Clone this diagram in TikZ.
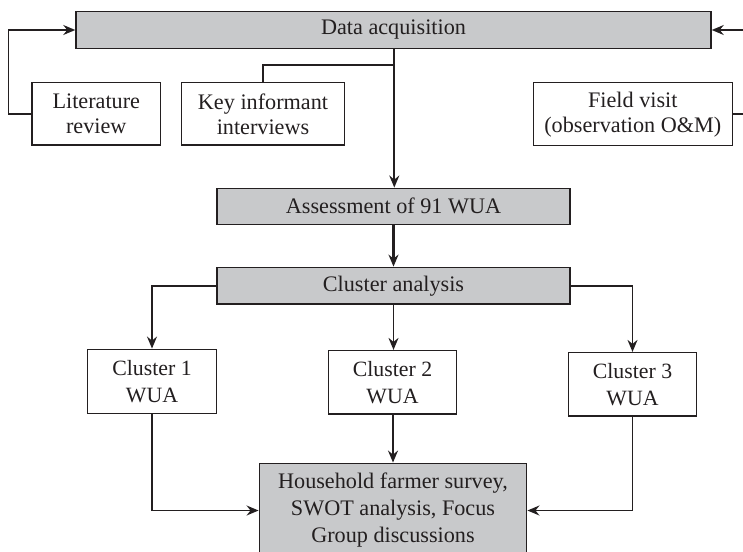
\documentclass[tikz,border=0pt]{standalone}
\usepackage{fontspec}
\setmainfont{Liberation Serif}
\usetikzlibrary{arrows.meta}
\definecolor{ink}{RGB}{35,31,32}
\definecolor{boxgray}{RGB}{200,201,203}
\tikzset{
  basebox/.style={draw=ink, line width=0.75pt, rectangle, inner sep=0pt, align=center, text=ink},
  graybox/.style={basebox, fill=boxgray},
  whitebox/.style={basebox, fill=white},
  topfont/.style={font=\fontsize{11.1}{12.5}\selectfont},
  lowfont/.style={font=\fontsize{10.9}{13.3}\selectfont},
  conn/.style={draw=ink, line width=0.8pt},
  arr/.style={conn, -{Stealth[length=6pt,width=5pt,inset=2pt]}},
  thickarr/.style={arr, line width=1.05pt}
}
\begin{document}
\begin{tikzpicture}[x=0.5pt,y=-0.5pt]
\clip (0,0) rectangle (743,551);
\fill[white] (0,0) rectangle (743,551);

\node[graybox, topfont, minimum width=317.5pt, minimum height=18.3pt] (da) at (393.5,30) {Data acquisition};
\node[whitebox, topfont, minimum width=64.35pt, minimum height=31.15pt] (lit) at (96.3,113.8) {Literature\\review};
\node[whitebox, topfont, minimum width=81.3pt, minimum height=31.15pt] (key) at (263,113.8) {Key informant\\interviews};
\node[whitebox, topfont, minimum width=99.5pt, minimum height=31.5pt] (field) at (632.8,114.2) {Field visit\\(observation O\&M)};
\node[graybox, topfont, minimum width=176.3pt, minimum height=18pt] (as) at (393.5,206.3) {Assessment of 91 WUA};
\node[graybox, topfont, minimum width=176.6pt, minimum height=18.35pt] (clus) at (393.5,285.7) {Cluster analysis};
\node[whitebox, lowfont, minimum width=64.7pt, minimum height=32pt] (c1) at (152,381.3) {Cluster 1\\WUA};
\node[whitebox, lowfont, minimum width=64.2pt, minimum height=31.65pt] (c2) at (392.5,382.3) {Cluster 2\\WUA};
\node[whitebox, lowfont, minimum width=64.2pt, minimum height=31.65pt] (c3) at (632.5,384.3) {Cluster 3\\WUA};
\node[graybox, font=\fontsize{11.1}{13.5}\selectfont, minimum width=133.7pt, minimum height=47.2pt] (hh) at (393,510.5) {Household farmer survey,\\SWOT analysis, Focus\\Group discussions};

\coordinate (kj) at (394.3,65);

% top connectors
\draw[arr] (lit.west) -- ++(-22.7,0) |- (da.west);
\draw[conn] (key.north) |- (kj);
\draw[arr] (field.east) -- ++(30,0) |- (da.east);
\draw[thickarr] (da.south -| kj) -- (as.north -| kj);
\draw[thickarr] (as.south) -- (clus.north);

% cluster connectors
\draw[arr] (clus.west) -| (c1.north);
\draw[arr] (clus.south) -- (clus.south |- c2.north);
\draw[arr] (clus.east) -| (c3.north);
\draw[arr] (c1.south) |- (hh.west);
\draw[arr] (c2.south -| hh.north) -- (hh.north);
\draw[arr] (c3.south) |- (hh.east);
\end{tikzpicture}
\end{document}
